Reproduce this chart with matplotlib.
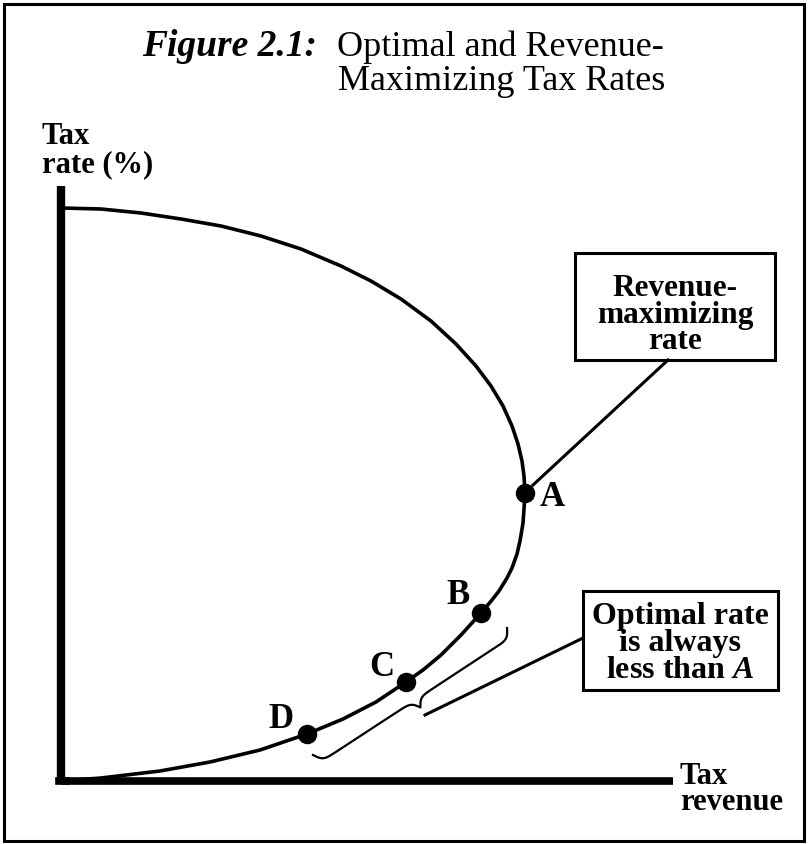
import numpy as np
import matplotlib
matplotlib.use('Agg')
import matplotlib.pyplot as plt
from matplotlib.patches import Rectangle

plt.rcParams['font.family'] = ['Liberation Serif', 'DejaVu Serif']
plt.rcParams['mathtext.fontset'] = 'custom'
plt.rcParams['mathtext.bfit'] = 'Liberation Serif:bold:italic'
plt.rcParams['mathtext.rm'] = 'Liberation Serif:bold'

#--- curve (revenue, rate), from top of the rate axis down to origin
revenue = [0, 40, 80, 120, 160, 200, 240, 280, 310, 340, 370, 395, 415, 430, 442, 451,
           457, 461, 463, 464,
           463, 462, 459, 456, 451, 446, 438, 431, 420, 400, 380, 362, 345, 315, 282,
           246, 199, 149, 99, 40, 0]
rate = [573, 572, 568, 562, 555, 545, 532, 515, 500, 482, 460, 437, 415, 395, 375, 355,
        337, 320, 305, 288,
        272, 258, 240, 227, 213, 203, 190, 181, 168, 146, 126, 111, 99, 79, 62,
        47, 31, 19, 10, 3, 0]

points = ['A', 'B', 'C', 'D']
point_revenue = [464, 420, 345, 246]
point_rate = [288, 168, 99, 47]
label_revenue = [491, 397, 321, 220]
label_rate = [283, 186, 114, 62]

axis_max_revenue = 612
axis_max_rate = 595

fig = plt.figure(figsize=(8.08, 8.44), dpi=100)
ax = fig.add_axes([0, 0, 1, 1])
ax.set_xlim(-61, 747)
ax.set_ylim(-63, 781)
ax.axis('off')

#--- outer frame
ax.add_patch(Rectangle((-57, -60), 800, 837, fill=False, lw=2.2, ec='black'))

#--- axes
ax.plot([0, 0], [0, axis_max_rate], color='black', lw=6, solid_capstyle='butt')
ax.plot([0, axis_max_revenue], [0, 0], color='black', lw=5.5, solid_capstyle='butt')
ax.plot([-2.5, 5], [0, 0], color='black', lw=5.5)

#--- Laffer curve
ax.plot(revenue, rate, color='black', lw=2.6, solid_joinstyle='round')
ax.plot(point_revenue, point_rate, 'o', color='black', ms=13)
for name, x, y in zip(points, label_revenue, label_rate):
    ax.text(x, y, name, fontsize=25, fontweight='bold', ha='center', va='center')

#--- title
ax.text(81, 725, 'Figure 2.1:', fontsize=27, fontweight='bold', fontstyle='italic',
        ha='left', va='baseline')
ax.text(276, 725, 'Optimal and Revenue-', fontsize=26, ha='left', va='baseline')
ax.text(277, 691, 'Maximizing Tax Rates', fontsize=26, ha='left', va='baseline')

#--- axis labels (baseline = last line)
ax.text(-19, 609, 'Tax\nrate (%)', fontsize=22, fontweight='bold', ha='left', va='baseline',
        linespacing=0.97)
ax.text(619, -29, 'Tax\nrevenue', fontsize=22, fontweight='bold', ha='left', va='baseline',
        linespacing=0.85)

#--- revenue-maximizing box
ax.add_patch(Rectangle((514, 421), 200, 107, fill=False, lw=2.2, ec='black'))
ax.text(614, 466, 'Revenue-\nmaximizing\nrate', fontsize=22.5, fontweight='bold',
        ha='center', va='center', linespacing=0.87)
ax.plot([472, 607], [296, 421], color='black', lw=2.2)

#--- optimal rate box
ax.add_patch(Rectangle((522, 91), 195, 99, fill=False, lw=2.2, ec='black'))
ax.text(619, 137.5, 'Optimal rate\nis always\nless than $\\mathbfit{A}$', fontsize=23,
        fontweight='bold', ha='center', va='center', linespacing=0.9)
ax.plot([522, 364], [143, 66], color='black', lw=2.2)

#--- curly brace between D and B
p1 = np.array([252.0, 26.0])
p2 = np.array([446.0, 153.0])
d = p2 - p1
length = np.hypot(*d)
along = d / length
perp = np.array([along[1], -along[0]])
u_half = np.linspace(0, length / 2, 200)
beta = 0.35
v_half = 10 * (2 / (1 + np.exp(-beta * u_half)) - 1) + 2 * 9 / (1 + np.exp(-beta * (u_half - length / 2)))
u = np.concatenate([u_half, length - u_half[::-1]])
v = np.concatenate([v_half, v_half[::-1]])
bx = p1[0] + u * along[0] + v * perp[0]
by = p1[1] + u * along[1] + v * perp[1]
ax.plot(bx, by, color='black', lw=1.6)

fig.savefig('out.png', dpi=100)
